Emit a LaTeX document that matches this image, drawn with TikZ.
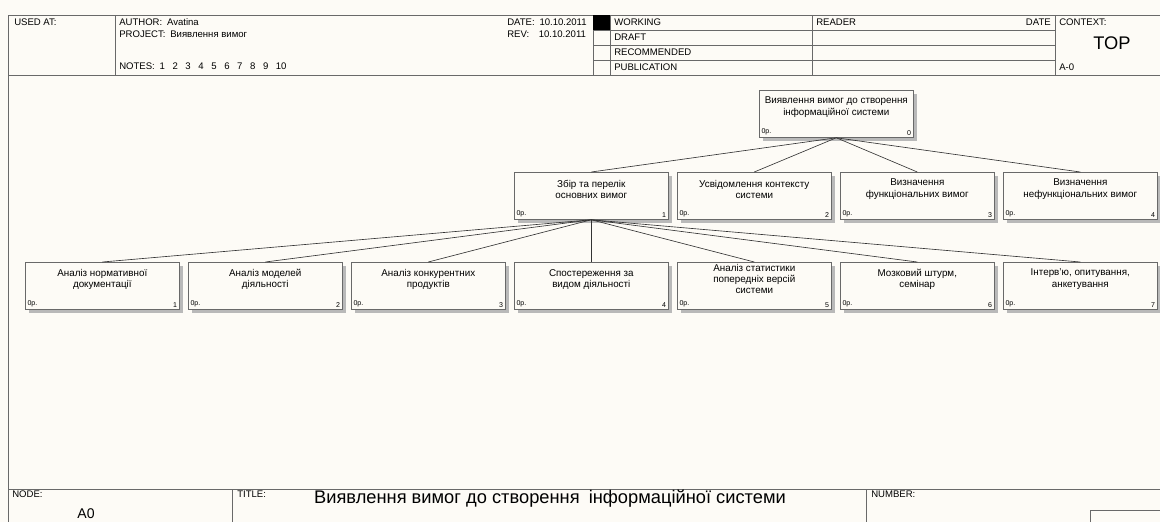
\documentclass[tikz,border=0pt]{standalone}
\usepackage{fontspec}
\setmainfont{Liberation Sans}
\usetikzlibrary{shadows}
\definecolor{paper}{RGB}{253,251,246}
\definecolor{frame}{RGB}{105,105,105}

\newcommand\procbox[5]{%
  \node[proc] (#1) at (#2,#3) {};
  \node[ptext] (#1-t) at ([yshift=-0.43cm]#1.north) {#4};
  \node[corner, anchor=south west] (#1-c) at (#1.south west) {0р.};
  \node[corner, anchor=south east] (#1-n) at (#1.south east) {#5};
}

\begin{document}
\begin{tikzpicture}[x=0.025cm, y=-0.025cm,
  proc/.style={draw=frame, fill=paper, minimum width=3.85cm, minimum height=1.18cm,
    anchor=north west, inner sep=0pt,
    drop shadow={shadow xshift=0.09cm, shadow yshift=-0.09cm, fill=gray!55, opacity=1}},
  ptext/.style={font=\fontsize{7}{8}\selectfont, align=center, inner sep=0pt},
  corner/.style={font=\fontsize{5}{5}\selectfont, inner sep=1.6pt},
  hdr/.style={font=\fontsize{6.8}{7}\selectfont, anchor=west, inner sep=0pt},
  rule/.style={draw=frame, line width=0.7pt},
  link/.style={draw=black!80, line width=0.45pt}]
	\fill[paper] (0,0) rectangle (1160,522);
	\useasboundingbox (0,0) rectangle (1160,522);

	\draw[rule] (8,15) -- (1160,15);
	\draw[rule] (8,75) -- (1160,75);
	\draw[rule] (8,15) -- (8,522);
	\draw[rule] (115,15) -- (115,75);
	\draw[rule] (593,15) -- (593,75);
	\draw[rule] (610,15) -- (610,75);
	\draw[rule] (812,15) -- (812,75);
	\draw[rule] (1055,15) -- (1055,75);
	\foreach \y in {30,45,60}
		\draw[rule] (593,\y) -- (1055,\y);
	\fill[black] (593,15) rectangle (610,30);

	\node[hdr] (usedat) at (14,22) {USED AT:};
	\node[hdr] (author) at (119,22) {AUTHOR:\enspace Avatina};
	\node[hdr] (project) at (119,34) {PROJECT:\enspace Виявлення вимог};
	\node[hdr] (notes) at (119,66) {NOTES:\enspace 1\hspace{0.19cm}2\hspace{0.19cm}3\hspace{0.19cm}4\hspace{0.19cm}5\hspace{0.19cm}6\hspace{0.19cm}7\hspace{0.19cm}8\hspace{0.19cm}9\hspace{0.19cm}10};
	\node[hdr] (date) at (507,22) {DATE:\enspace 10.10.2011};
	\node[hdr] (rev) at (507,34) {REV:\enspace\enspace 10.10.2011};
	\node[hdr] (working) at (614,22) {WORKING};
	\node[hdr] (draft) at (614,37) {DRAFT};
	\node[hdr] (recommended) at (614,52) {RECOMMENDED};
	\node[hdr] (publication) at (614,67) {PUBLICATION};
	\node[hdr] (reader) at (816,22) {READER};
	\node[hdr, anchor=east] (rdate) at (1051,22) {DATE};
	\node[hdr] (context) at (1059,22) {CONTEXT:};
	\node[font=\fontsize{13}{13}\selectfont] (top) at (1112,43) {TOP};
	\node[hdr] (ctxnode) at (1059,67) {A-0};

	\draw[rule] (8,489) -- (1160,489);
	\draw[rule] (232,489) -- (232,522);
	\draw[rule] (866,489) -- (866,522);
	\draw[rule] (1090,522) -- (1090,510) -- (1160,510);
	\node[hdr] (nodelbl) at (12,494) {NODE:};
	\node[font=\fontsize{10}{10}\selectfont] (nodeno) at (86,514) {A0};
	\node[hdr] (titlelbl) at (237,494) {TITLE:};
	\node[font=\fontsize{13}{13}\selectfont] (title) at (550,499) {Виявлення вимог до створення\enspace інформаційної системи};
	\node[hdr] (numberlbl) at (871,494) {NUMBER:};

	\procbox{a0}{759}{90}{Виявлення вимог до створення\\інформаційної системи}{0}

	\foreach \i/\txt in {1/{Збір та перелік\\основних вимог},
		2/{Усвідомлення контексту\\системи},
		3/{Визначення\\функціональних вимог},
		4/{Визначення\\нефункціональних вимог}} {
		\pgfmathsetmacro\px{514+(\i-1)*163}
		\procbox{a\i}{\px}{172}{\txt}{\i}
		\draw[link] (a0.south) -- (a\i.north);
	}

	\foreach \i/\txt in {1/{Аналіз нормативної\\документації},
		2/{Аналіз моделей\\діяльності},
		3/{Аналіз конкурентних\\продуктів},
		4/{Спостереження за\\видом діяльності},
		5/{Аналіз статистики\\попередніх версій\\системи},
		6/{Мозковий штурм,\\семінар},
		7/{Інтерв'ю, опитування,\\анкетування}} {
		\pgfmathsetmacro\px{25+(\i-1)*163}
		\procbox{c\i}{\px}{262}{\txt}{\i}
		\draw[link] (a1.south) -- (c\i.north);
	}
\end{tikzpicture}
\end{document}
